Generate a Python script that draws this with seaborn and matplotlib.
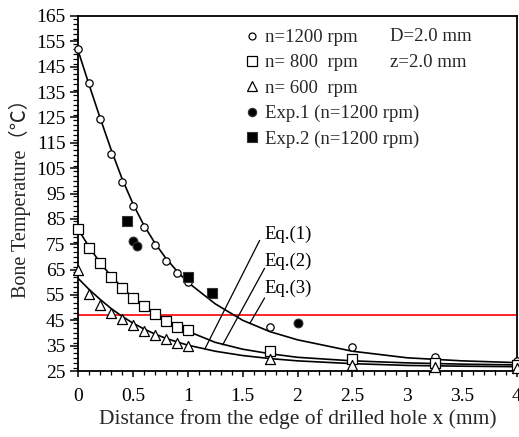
import numpy as np
import pandas as pd
import matplotlib
matplotlib.use("Agg")
import matplotlib.pyplot as plt
import seaborn as sns
from matplotlib.ticker import MultipleLocator, FixedLocator, FixedFormatter
from matplotlib.lines import Line2D

# ---------------- data ----------------
x_meas = [0, 0.1, 0.2, 0.3, 0.4, 0.5, 0.6, 0.7, 0.8, 0.9, 1.0, 1.75, 2.5, 3.25, 4.0]
t_1200 = [152.0, 138.5, 124.3, 110.6, 99.5, 90.1, 81.9, 74.7, 68.5, 63.8, 60.0, 42.2, 34.5, 30.4, 29.1]
t_800 = [81.0, 73.4, 67.5, 62.2, 57.7, 53.9, 50.6, 47.4, 44.8, 42.5, 41.1, 32.9, 29.6, 28.0, 27.2]
t_600 = [64.8, 55.4, 50.9, 47.8, 45.4, 43.2, 40.9, 39.1, 37.5, 35.9, 35.0, 29.6, 27.4, 26.5, 26.0]

x_exp1 = [0.50, 0.535, 2.0]
t_exp1 = [76.3, 74.2, 44.1]
x_exp2 = [0.45, 1.0, 1.22]
t_exp2 = [84.2, 62.2, 55.7]

x_fit = [0, 0.1, 0.2, 0.3, 0.4, 0.5, 0.6, 0.7, 0.8, 0.9, 1.0, 1.25, 1.5, 1.75, 2.0, 2.5, 3.0, 3.5, 4.0]
fit_1200 = [151.5, 138.0, 125.0, 112.5, 101.0, 91.0, 82.5, 75.5, 69.5, 64.5, 60.0, 51.5, 45.0, 40.5, 37.3, 32.8, 30.2, 29.0, 28.3]
fit_800 = [81.0, 74.0, 67.8, 62.5, 58.0, 54.0, 50.5, 47.5, 45.0, 42.7, 40.7, 36.3, 33.6, 31.8, 30.4, 29.0, 28.2, 27.7, 27.4]
fit_600 = [61.6, 57.2, 53.3, 49.7, 46.6, 43.9, 41.6, 39.6, 37.9, 36.5, 35.2, 32.8, 31.1, 29.9, 29.0, 27.9, 27.2, 26.9, 26.7]

limit_temp = 47.0

eq_labels = ["Eq.(1)", "Eq.(2)", "Eq.(3)"]
eq_text_pos = [(1.70, 78.8), (1.70, 68.2), (1.70, 57.4)]
eq_line_start = [(1.655, 76.5), (1.70, 65.5), (1.70, 53.8)]
eq_line_end = [(1.157, 33.8), (1.318, 35.3), (1.566, 43.8)]

legend_labels = ["n=1200 rpm", "n= 800  rpm", "n= 600  rpm",
                 "Exp.1 (n=1200 rpm)", "Exp.2 (n=1200 rpm)"]
params_text = ["D=2.0 mm", "z=2.0 mm"]

xticks = [0, 0.5, 1, 1.5, 2, 2.5, 3, 3.5, 4]
xtick_labels = ["0", "0.5", "1", "1.5", "2", "2.5", "3", "3.5", "4"]
yticks = [25, 35, 45, 55, 65, 75, 85, 95, 105, 115, 125, 135, 145, 155, 165]

# ---------------- style ----------------
sns.set_theme(style="ticks")
plt.rcParams['font.family'] = ['Liberation Serif', 'DejaVu Serif']

fig = plt.figure(figsize=(5.19, 4.37), dpi=100)
ax = fig.add_axes([78 / 519, 66 / 437, 439 / 519, 355 / 437])

df_fit = pd.DataFrame({
    "x": x_fit * 3,
    "T": fit_1200 + fit_800 + fit_600,
    "s": ["1200"] * len(x_fit) + ["800"] * len(x_fit) + ["600"] * len(x_fit),
})
sns.lineplot(data=df_fit, x="x", y="T", units="s", estimator=None, color="black",
             lw=1.2, ax=ax, legend=False, sort=True, zorder=2)

ax.axhline(limit_temp, color="#ff0000", lw=1.2, zorder=1)

mk = dict(clip_on=False, zorder=4, legend=False)
sns.scatterplot(x=x_meas, y=t_1200, marker="o", s=28, facecolor="white",
                edgecolor="black", linewidth=0.9, ax=ax, **mk)
sns.scatterplot(x=x_meas, y=t_800, marker="s", s=62, facecolor="white",
                edgecolor="black", linewidth=0.9, ax=ax, **mk)
sns.scatterplot(x=x_meas, y=t_600, marker="^", s=52, facecolor="white",
                edgecolor="black", linewidth=0.9, ax=ax, **mk)
sns.scatterplot(x=x_exp1, y=t_exp1, marker="o", s=40, facecolor="black",
                edgecolor="#333333", linewidth=0.8, ax=ax, **mk)
sns.scatterplot(x=x_exp2, y=t_exp2, marker="s", s=60, facecolor="black",
                edgecolor="#333333", linewidth=0.8, ax=ax, **mk)

for lab, tp, s0, s1 in zip(eq_labels, eq_text_pos, eq_line_start, eq_line_end):
    ax.plot([s0[0], s1[0]], [s0[1], s1[1]], color="black", lw=0.9, zorder=3)
    ax.text(tp[0], tp[1], lab, fontsize=13.5, ha="left", va="center", color="black")

ax.set_xlim(0, 4)
ax.set_ylim(25, 165)
ax.xaxis.set_major_locator(FixedLocator(xticks))
ax.xaxis.set_major_formatter(FixedFormatter(xtick_labels))
ax.xaxis.set_minor_locator(MultipleLocator(0.1))
ax.yaxis.set_major_locator(FixedLocator(yticks))
ax.yaxis.set_minor_locator(MultipleLocator(2))
ax.tick_params(which="major", direction="out", width=1.1, labelsize=14, colors="black")
ax.tick_params(which="minor", direction="out", width=0.9, colors="black")
ax.tick_params(axis="x", which="major", length=4.5, pad=8)
ax.tick_params(axis="x", which="minor", length=3)
ax.tick_params(axis="y", which="major", length=6, pad=3)
ax.tick_params(axis="y", which="minor", length=3.5)
for sp in ax.spines.values():
    sp.set_visible(True)
    sp.set_linewidth(1.3)
    sp.set_color("black")

ax.set_xlabel("Distance from the edge of drilled hole x (mm)", fontsize=15.5, labelpad=3)
ax.set_ylabel("Bone Temperature（℃）", fontsize=14.5, labelpad=4,
              family=['Liberation Serif', 'Noto Sans CJK SC', 'DejaVu Serif'])

handles = [
    Line2D([], [], ls="none", marker="o", ms=5, mfc="white", mec="black", mew=0.9),
    Line2D([], [], ls="none", marker="s", ms=7.5, mfc="white", mec="black", mew=0.9),
    Line2D([], [], ls="none", marker="^", ms=7, mfc="white", mec="black", mew=0.9),
    Line2D([], [], ls="none", marker="o", ms=6, mfc="black", mec="#333333", mew=0.8),
    Line2D([], [], ls="none", marker="s", ms=7.5, mfc="black", mec="#333333", mew=0.8),
]
leg = ax.legend(handles, legend_labels, loc="upper left",
                bbox_to_anchor=((246 - 78) / 439, 1 - (29 - 16) / 355),
                frameon=False, fontsize=13.5, handlelength=0.6, handletextpad=0.41,
                labelspacing=0.44, borderaxespad=0, borderpad=0)

ax.text((390 - 78) / 439, 1 - (37 - 16) / 355, params_text[0], transform=ax.transAxes,
        fontsize=13.5, ha="left", va="center")
ax.text((390 - 78) / 439, 1 - (63 - 16) / 355, params_text[1], transform=ax.transAxes,
        fontsize=13.5, ha="left", va="center")

fig.savefig("out.png", dpi=100)
